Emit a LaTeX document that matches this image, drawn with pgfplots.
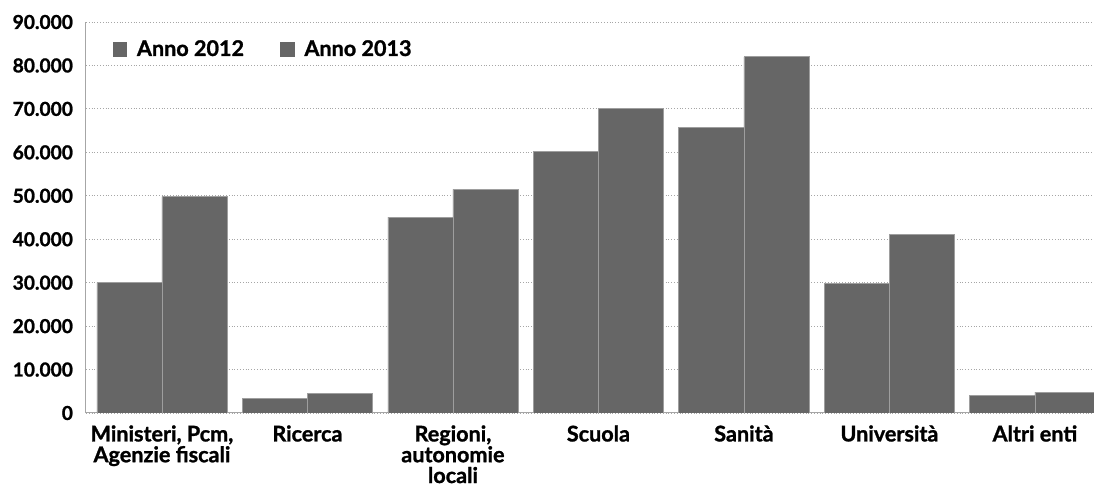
\documentclass[border=0pt]{standalone}
\usepackage{fontspec}
\setmainfont{Lato}[BoldFeatures={FakeBold=1.2}]
\usepackage{pgfplots}
\pgfplotsset{compat=1.18}
\definecolor{barfill}{gray}{0.40}
\definecolor{barline}{gray}{0.62}
\begin{document}
\begin{tikzpicture}
\useasboundingbox (-43pt,-36.5pt) rectangle (504pt,206.5pt);
\begin{axis}[
  at={(0,0)}, anchor=south west,
  scale only axis,
  width=504pt, height=195.5pt,
  ybar=0pt, bar width=0.447,
  xmin=-0.522, xmax=6.406,
  ymin=0, ymax=90000,
  ytick={0,10000,...,90000},
  xtick={0,1,2,3,4,5,6},
  xticklabels={{Ministeri, Pcm,\\Agenzie fiscali},{Ricerca},{Regioni,\\autonomie\\locali},{Scuola},{Sanità},{Università},{Altri enti}},
  xticklabel style={align=center, inner sep=1pt, font=\bfseries\fontsize{10.8}{10.4}\selectfont, yshift=-5pt},
  yticklabel style={font=\bfseries\fontsize{9.6}{10}\selectfont, xshift=-3pt},
  /pgf/number format/assume math mode=true,
  /pgf/number format/1000 sep={.},
  scaled y ticks=false,
  axis x line*=bottom, axis y line*=left,
  axis line style={gray!70, line width=0.5pt},
  x axis line style={-}, y axis line style={-},
  major tick length=0pt,
  ymajorgrids,
  grid style={gray!70, line width=0.4pt, densely dotted},
  legend style={draw=none, fill=none, at={(0.02,0.975)}, anchor=north west,
    legend columns=2, font=\bfseries\fontsize{10.8}{11}\selectfont,
    /tikz/every even column/.append style={column sep=16pt}},
  legend image code/.code={\fill[barfill] (0pt,-3.4pt) rectangle (6.8pt,3.4pt);},
]
\addplot[fill=barfill, draw=barline, line width=0.4pt] coordinates {
(0,30000) (1,3400) (2,45100) (3,60300) (4,65800) (5,29900) (6,4100)};
\addplot[fill=barfill, draw=barline, line width=0.4pt] coordinates {
(0,49800) (1,4600) (2,51500) (3,70200) (4,82000) (5,41000) (6,4800)};
\legend{\hspace{3pt}Anno 2012, \hspace{3pt}Anno 2013}
\end{axis}
\end{tikzpicture}
\end{document}
